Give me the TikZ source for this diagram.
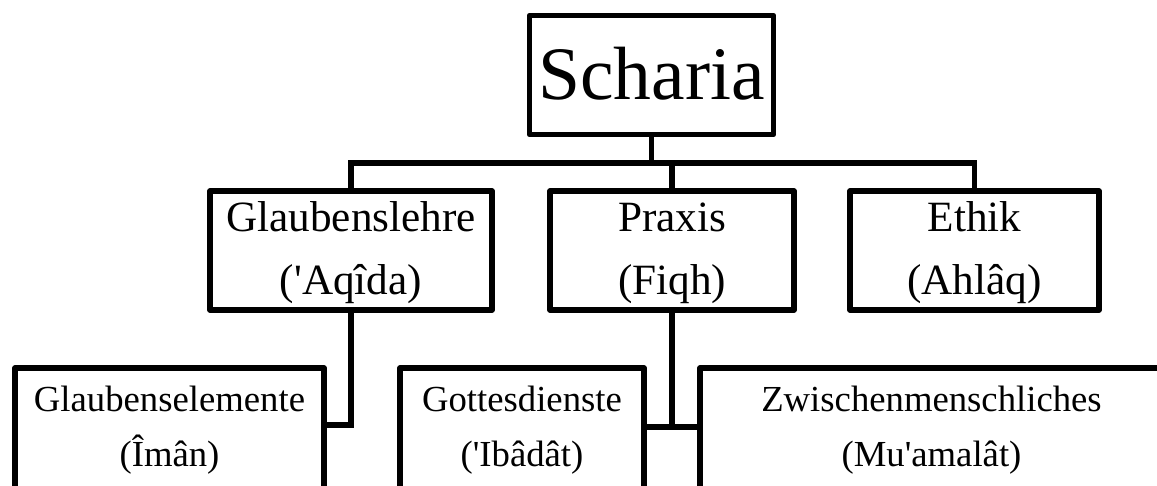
\documentclass[tikz,border=0pt]{standalone}
\usepackage{fontspec}
\setmainfont{Liberation Serif}
\newcommand{\myup}{\rule{0pt}{35pt}}
\newcommand{\q}{\textquotesingle}
\begin{document}
\begin{tikzpicture}[x=1pt,y=-1pt,
  box/.style={draw,line width=5.5pt,inner sep=0pt,align=center,line join=round},
  top/.style={box,font=\fontsize{75.5}{90}\selectfont},
  mid/.style={box,minimum height=119pt,font=\fontsize{43.2}{63}\selectfont},
  low/.style={box,minimum height=124pt,font=\fontsize{36.7}{55}\selectfont},
  link/.style={line width=5.5pt,line join=miter}]
\useasboundingbox (0,0) rectangle (1157,485);
\clip (0,0) rectangle (1157,485);
\node[top,minimum width=244pt,minimum height=119pt] (sch) at (651.5,75) {Scharia\rule[-4pt]{0pt}{4pt}};
\node[mid,minimum width=282pt] (gl) at (351,250.5) {\myup Glaubenslehre\\(\q Aqîda)};
\node[mid,minimum width=244pt] (pr) at (672,250.5) {\myup Praxis\\(Fiqh)};
\node[mid,minimum width=249pt] (et) at (974.5,250.5) {\myup Ethik\\(Ahlâq)};
\node[low,minimum width=309pt] (ge) at (169.5,430) {Glaubenselemente\\(Îmân)};
\node[low,minimum width=244pt] (gd) at (522,430) {Gottesdienste\\(\q Ibâdât)};
\node[low,minimum width=463pt] (zw) at (931.5,430) {Zwischenmenschliches\\(Mu\q amalât)};
\coordinate (bar) at (0,163);
\coordinate (j1) at (0,425);
\coordinate (j2) at (0,427);
\draw[link] (sch.south) -- (sch.south |- bar);
\draw[link] (gl.north) -- (gl.north |- bar) -- (et.north |- bar) -- (et.north);
\draw[link] (pr.north) -- (pr.north |- bar);
\draw[link] (gl.south) -- (gl.south |- j1) -- (ge.east |- j1);
\draw[link] (pr.south) -- (pr.south |- j2);
\draw[link] (gd.east |- j2) -- (zw.west |- j2);
\end{tikzpicture}
\end{document}
